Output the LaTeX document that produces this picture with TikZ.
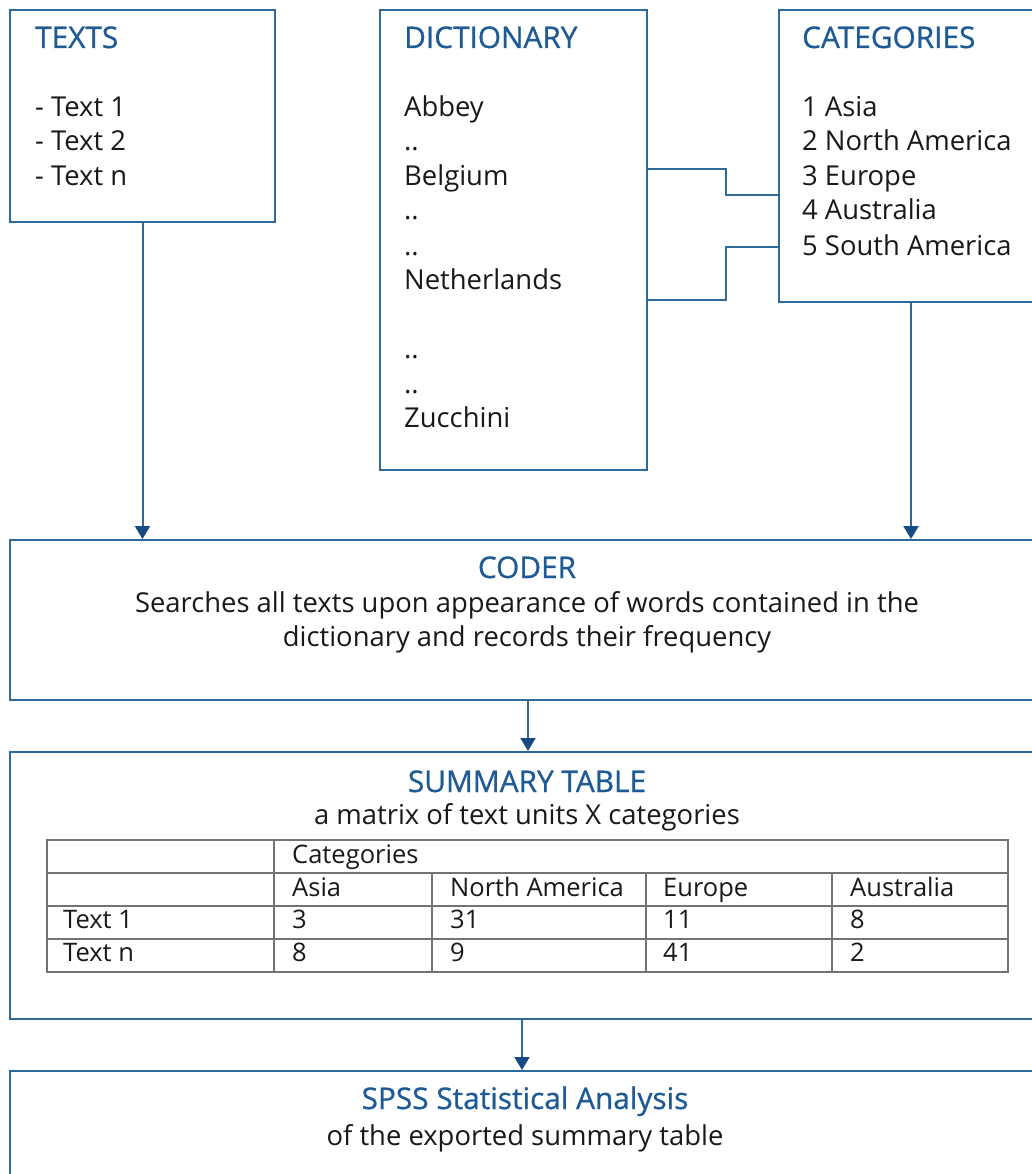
\documentclass[tikz,border=0pt]{standalone}
\usepackage{fontspec}
\setmainfont{Open Sans}
\newfontfamily\titlefont[FakeBold=0.8]{Open Sans}
\usetikzlibrary{arrows.meta}
\definecolor{lineblue}{RGB}{45,105,155}
\definecolor{titleblue}{RGB}{30,90,150}
\definecolor{tipblue}{RGB}{20,75,130}
\definecolor{txtc}{RGB}{25,25,25}
\definecolor{tgrey}{RGB}{115,115,115}
\begin{document}
\begin{tikzpicture}[x=1pt,y=-1pt,
  box/.style={draw=lineblue, line width=2pt, inner sep=0pt, anchor=north west},
  ttl/.style={text=titleblue, font=\titlefont\fontsize{29.8}{34.5}\selectfont, inner sep=0pt},
  txt/.style={text=txtc, font=\fontsize{27.4}{34.5}\selectfont, inner sep=0pt},
  cell/.style={text=txtc, font=\fontsize{25.5}{30}\selectfont, inner sep=0pt, anchor=base west},
  conn/.style={draw=lineblue, line width=2pt},
  arr/.style={conn, -{Triangle[width=15pt,length=13pt,color=tipblue]}},
  grid/.style={draw=tgrey, line width=1.8pt}
]
\useasboundingbox (0,0) rectangle (1032,1174);
\clip (0,0) rectangle (1032,1174);
\fill[white] (0,0) rectangle (1032,1174);

% boxes
\node[box, minimum width=265, minimum height=212] (texts) at (9,9) {};
\node[box, minimum width=267, minimum height=460] (dict) at (379,9) {};
\node[box, minimum width=264, minimum height=292] (cat) at (778,9) {};
\node[box, minimum width=1036, minimum height=160] (coder) at (9,539) {};
\node[box, minimum width=1036, minimum height=267] (summary) at (9,751) {};
\node[box, minimum width=1036, minimum height=160] (spss) at (9,1070) {};

% texts box
\node[ttl, anchor=base west] (textsT) at (35,48) {TEXTS};
\foreach \t/\y [count=\i] in {- Text 1/117, - Text 2/151, - Text n/186}
  \node[txt, anchor=base west] (textsL\i) at (35,\y) {\t};

% dictionary box
\node[ttl, anchor=base west] (dictT) at (404,48) {DICTIONARY};
\foreach \t/\y [count=\i] in {Abbey/117, ../151, Belgium/186, ../220, ../255, Netherlands/289, ../358, ../393, Zucchini/427}
  \node[txt, anchor=base west] (dictL\i) at (404,\y) {\t};

% categories box
\node[ttl, anchor=base west] (catT) at (802,48) {CATEGORIES};
\foreach \t/\y [count=\i] in {1 Asia/117, 2 North America/151, 3 Europe/186, 4 Australia/220, 5 South America/255}
  \node[txt, anchor=base west] (catL\i) at (802,\y) {\t};

% coder
\node[ttl, anchor=base] (coderT) at (527,578) {CODER};
\node[txt, anchor=base] (coderL1) at (527,612) {Searches all texts upon appearance of words contained in the};
\node[txt, anchor=base] (coderL2) at (527,646) {dictionary and records their frequency};

% summary
\node[ttl, anchor=base] (sumT) at (527,792) {SUMMARY TABLE};
\node[txt, anchor=base] (sumL1) at (527,824) {a matrix of text units X categories};

% table
\draw[grid] (47,840) rectangle (1008,972);
\draw[grid] (47,873) -- (1008,873);
\draw[grid] (47,906) -- (1008,906);
\draw[grid] (47,939) -- (1008,939);
\draw[grid] (274,840) -- (274,972);
\draw[grid] (432,873) -- (432,972);
\draw[grid] (646,873) -- (646,972);
\draw[grid] (832,873) -- (832,972);
\node[cell] (c1) at (292,863) {Categories};
\node[cell] (c2) at (292,896) {Asia};
\node[cell] (c3) at (450,896) {North America};
\node[cell] (c4) at (663,896) {Europe};
\node[cell] (c5) at (850,896) {Australia};
\node[cell] (r1) at (63,928) {Text 1};
\node[cell] (r1a) at (292,928) {3};
\node[cell] (r1b) at (450,928) {31};
\node[cell] (r1c) at (663,928) {11};
\node[cell] (r1d) at (850,928) {8};
\node[cell] (r2) at (63,961) {Text n};
\node[cell] (r2a) at (292,961) {8};
\node[cell] (r2b) at (450,961) {9};
\node[cell] (r2c) at (663,961) {41};
\node[cell] (r2d) at (850,961) {2};

% spss
\node[ttl, anchor=base] (spssT) at (525,1109) {SPSS Statistical Analysis};
\node[txt, anchor=base] (spssL1) at (525,1145) {of the exported summary table};

% connectors dictionary - categories
\coordinate (k1) at (726,169);
\coordinate (k2) at (726,195);
\coordinate (k3) at (726,300);
\coordinate (k4) at (726,247);
\draw[conn] (dict.east |- k1) -- (k1) -- (k2) -- (cat.west |- k2);
\draw[conn] (dict.east |- k3) -- (k3) -- (k4) -- (cat.west |- k4);

% arrows
\coordinate (a1) at (528,0);
\coordinate (a2) at (522,0);
\draw[arr] (texts.south) -- (texts.south |- coder.north);
\draw[arr] (cat.south) -- (cat.south |- coder.north);
\draw[arr] (coder.south -| a1) -- (summary.north -| a1);
\draw[arr] (summary.south -| a2) -- (spss.north -| a2);
\end{tikzpicture}
\end{document}
